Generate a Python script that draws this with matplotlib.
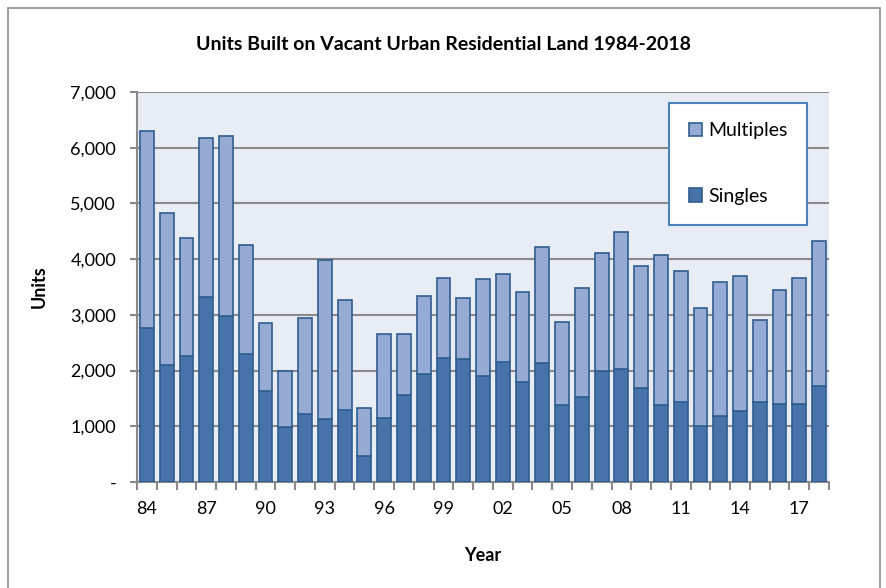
import matplotlib.pyplot as plt
import numpy as np
from matplotlib.patches import Rectangle
from matplotlib.ticker import FuncFormatter

years = list(range(1984, 2019))
singles = [2770, 2100, 2260, 3320, 2980, 2300, 1640, 990, 1220, 1130,
           1290, 460, 1150, 1570, 1930, 2230, 2210, 1910, 2150, 1800,
           2130, 1380, 1520, 1990, 2030, 1680, 1390, 1430, 1010, 1190,
           1270, 1430, 1400, 1400, 1730]
totals = [6300, 4820, 4380, 6170, 6210, 4260, 2860, 2000, 2950, 3990,
          3270, 1330, 2650, 2650, 3340, 3670, 3300, 3650, 3730, 3410,
          4220, 2880, 3490, 4110, 4480, 3870, 4080, 3780, 3120, 3590,
          3690, 2900, 3440, 3670, 4330]
multiples = [t - s for t, s in zip(totals, singles)]

plt.rcParams['font.family'] = ['Lato', 'DejaVu Sans']

fig = plt.figure(figsize=(8.86, 5.88), dpi=100)
fig.patches.append(Rectangle((8 / 886, -0.01), 872 / 886, 1.0 - 8 / 588 + 0.01,
                             transform=fig.transFigure, fill=False,
                             edgecolor='#8c8c8c', linewidth=1.2))
ax = fig.add_axes([137 / 886, 106 / 588, 692 / 886, 390 / 588])
ax.set_facecolor('#e8edf5')

x = np.arange(len(years))
edge = '#2f5d8f'
ax.bar(x, singles, width=0.7, color='#4674aa', edgecolor=edge, linewidth=1.2,
       label='Singles', zorder=3)
ax.bar(x, multiples, bottom=singles, width=0.7, color='#95abd3', edgecolor=edge,
       linewidth=1.2, label='Multiples', zorder=3)

ax.set_xlim(-0.5, len(years) - 0.5)
ax.set_ylim(0, 7000)
ax.set_yticks(range(0, 7001, 1000))
ax.yaxis.set_major_formatter(FuncFormatter(lambda v, p: '-' if v == 0 else f'{int(v):,}'))
ax.grid(axis='y', color='#8a8a8a', linewidth=1.5, zorder=1)
ax.set_axisbelow(True)

ax.set_xticks(x[::3])
ax.set_xticklabels([f'{y % 100:02d}' for y in years[::3]])
ax.set_xticks(np.arange(-0.5, len(years)), minor=True)
ax.tick_params(axis='x', which='major', length=0, pad=14, labelsize=13)
ax.tick_params(axis='x', which='minor', length=6, width=1.5, color='#8a8a8a',
               direction='out')
ax.tick_params(axis='y', length=5, width=1.5, color='#8a8a8a', labelsize=13, pad=10)

for side in ['top', 'right']:
    ax.spines[side].set_visible(False)
for side in ['left', 'bottom']:
    ax.spines[side].set_color('#8a8a8a')
    ax.spines[side].set_linewidth(1.5)

ax.set_xlabel('Year', fontsize=13, fontweight='bold', labelpad=21)
ax.set_ylabel('Units', fontsize=13, fontweight='bold', labelpad=16)
fig.text(0.5, 1 - 44 / 588, 'Units Built on Vacant Urban Residential Land 1984-2018',
         ha='center', va='center', fontsize=14, fontweight='bold')

handles, labels = ax.get_legend_handles_labels()
leg = ax.legend(handles[::-1], labels[::-1], loc='upper right',
                bbox_to_anchor=((807 - 137) / 692, 1 - 11 / 390),
                bbox_transform=ax.transAxes, fontsize=14, labelspacing=2.5,
                handlelength=0.7, handleheight=0.7, handletextpad=0.3,
                borderpad=1.0, borderaxespad=0, fancybox=False, framealpha=1)
leg.get_frame().set_edgecolor('#4f81bd')
leg.get_frame().set_linewidth(1.5)

fig.savefig('out.png', dpi=100)
